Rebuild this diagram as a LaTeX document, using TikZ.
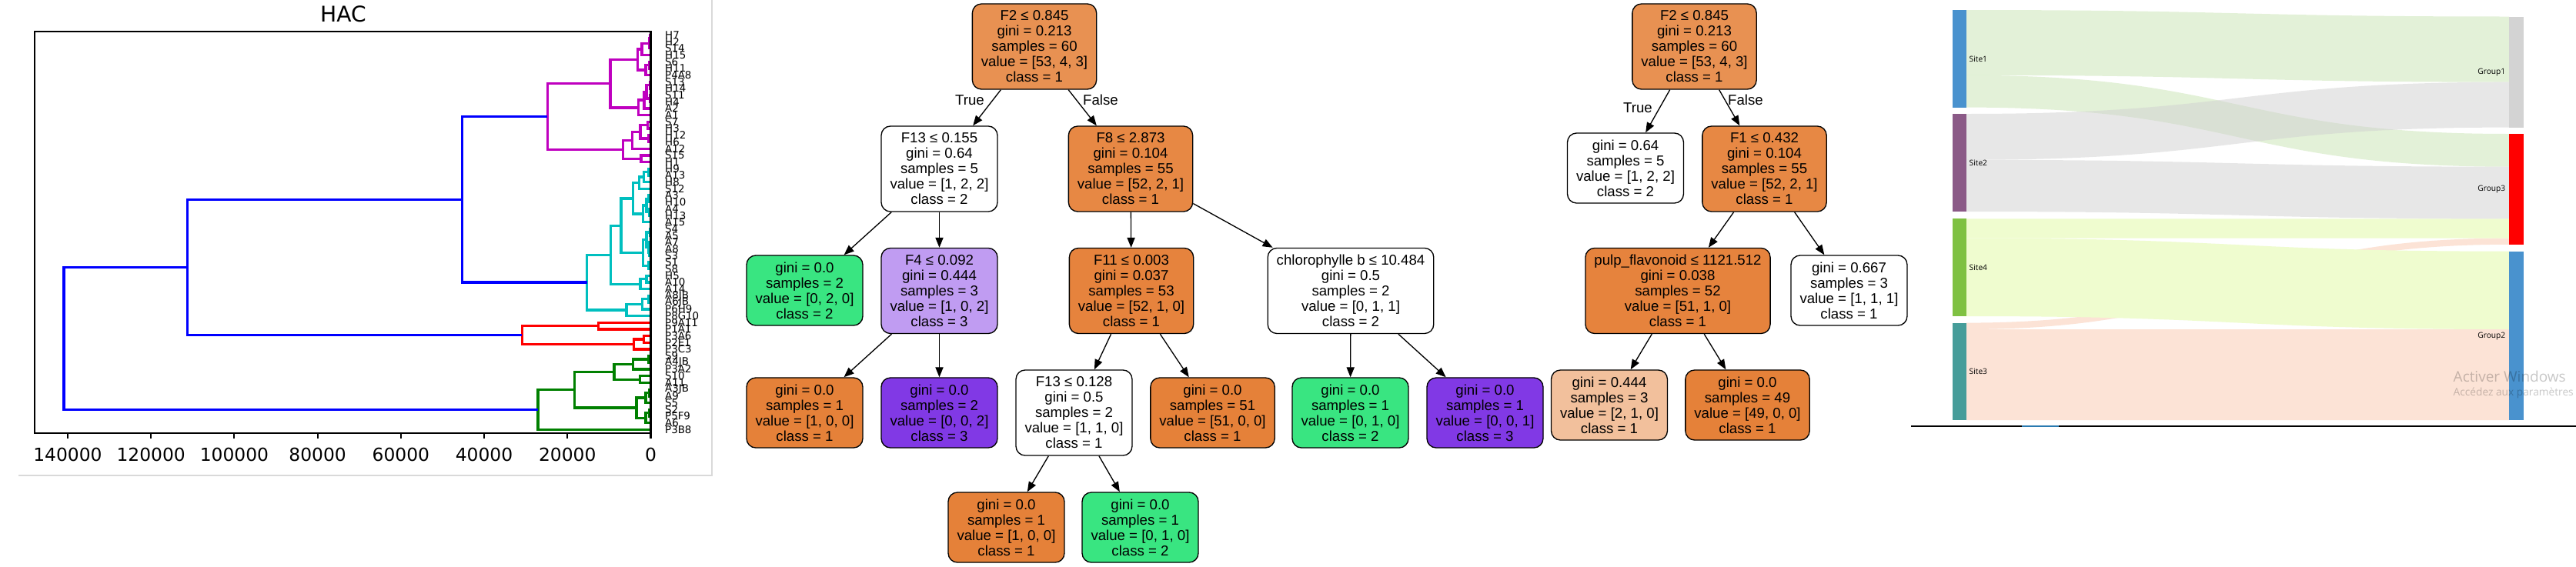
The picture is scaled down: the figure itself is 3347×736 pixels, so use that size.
\documentclass[tikz,border=0pt]{standalone}
\usepackage{fontspec}
\usepackage{xcolor}
\usepackage{tikz}
\usetikzlibrary{arrows.meta}
\newfontfamily\gvfont{Liberation Sans}
\newfontfamily\mplfont{DejaVu Sans}
\newfontfamily\plyfont{Open Sans}
\definecolor{cls1}{HTML}{E58139}
\definecolor{cls2}{HTML}{39E581}
\definecolor{cls3}{HTML}{8139E5}
\definecolor{rootfill}{HTML}{E89152}
\definecolor{splitA}{HTML}{E78844}
\definecolor{splitB}{HTML}{E6833D}
\definecolor{mixP}{HTML}{C09CF2}
\definecolor{mixO}{HTML}{F2C09C}
\definecolor{hm}{HTML}{BF00BF}
\definecolor{hc}{HTML}{00BFBF}
\definecolor{hr}{HTML}{FF0000}
\definecolor{hg}{HTML}{008000}
\definecolor{hb}{HTML}{0000FF}
\definecolor{panel}{HTML}{D9D9D9}
\definecolor{site1}{HTML}{4992CE}
\definecolor{site2}{HTML}{8B5A87}
\definecolor{site3}{HTML}{469D9A}
\definecolor{site4}{HTML}{7FC142}
\definecolor{grp1}{HTML}{D3D3D3}
\definecolor{grp3}{HTML}{FF0000}
\definecolor{grp2}{HTML}{4992CE}
\definecolor{flowg}{HTML}{C9E5B3}
\definecolor{flowk}{HTML}{D1D1D1}
\definecolor{flowy}{HTML}{EFFCCF}
\definecolor{flowp}{HTML}{FCE3D6}
\definecolor{baseline}{HTML}{0F4466}
\definecolor{baselit}{HTML}{2A7AB0}
\newcommand\gvsize{\gvfont\fontsize{5.3}{5.69}\selectfont}
\tikzset{
  tnode/.style={draw=black, line width=0.38pt, rounded corners=3.4pt, align=center,
    font=\gvsize, inner xsep=3.27pt, inner ysep=1.5pt, minimum height=1.11cm},
  tleaf/.style={tnode, minimum height=0.91cm},
  tedge/.style={line width=0.38pt, -{Triangle[length=3.7pt, width=2.9pt]}},
  tlab/.style={font=\gvsize, inner sep=0pt},
  hac/.style={line width=0.94pt},
  leaflab/.style={font=\mplfont\fontsize{3.8}{3.8}\selectfont, anchor=west, inner sep=0pt},
  ticklab/.style={font=\mplfont\fontsize{6.65}{6.65}\selectfont, inner sep=0pt},
  slab/.style={font=\plyfont\fontsize{2.9}{2.9}\selectfont, inner sep=0pt},
  wmark/.style={font=\plyfont, text=black, text opacity=0.22, anchor=west, inner sep=0pt}
}

\begin{document}
\begin{tikzpicture}[x=0.01cm, y=-0.01cm]
  \useasboundingbox (0,0) rectangle (3347,736);
  \fill[white] (0,0) rectangle (3347,736);

  % HAC panel
  \draw[panel, line width=0.5pt] (24,618) -- (925,618) -- (925,0);
  \node[font=\mplfont\fontsize{8}{8}\selectfont, inner sep=0pt] (title) at (446,18) {HAC};
  \begin{scope}[xshift=8.45cm, yshift=-0.41cm, x={(-0.05407cm,0)}, y={(0,-0.0869cm)}]
    % magenta cluster
    \foreach \ya/\va/\yb/\vb/\h in {
        0.5/0/1.5/0/0.1, 1.0/0.1/2.5/0/0.4, 1.75/0.4/3.5/0/2.15,
        4.5/0/5.5/0/0.3, 5.0/0.3/6.5/0/1.2, 2.625/2.15/5.75/1.2/3.1,
        7.5/0/8.5/0/0.2, 9.5/0/10.5/0/0.15, 8.0/0.2/10.0/0.15/1.0,
        9.0/1.0/11.5/0/1.55, 10.25/1.55/12.5/0/2.9, 4.1875/3.1/11.375/2.9/9.7,
        13.5/0/14.5/0/0.8, 15.5/0/16.5/0/0.6, 14.0/0.8/16.0/0.6/2.5,
        15.0/2.5/17.5/0/4.4, 18.5/0/19.5/0/2.3, 16.25/4.4/19.0/2.3/6.6,
        7.78/9.7/17.625/6.6/24.8}
      \draw[hac, hm] (\va,\ya) -- (\h,\ya) -- (\h,\yb) -- (\vb,\yb);
    % cyan cluster
    \foreach \ya/\va/\yb/\vb/\h in {
        20.5/0/21.5/0/0.6, 21.0/0.6/22.5/0/1.6, 21.75/1.6/23.5/0/2.8,
        24.5/0/25.5/0/0.5, 26.5/0/27.5/0/0.4, 25.0/0.5/27.0/0.4/1.0,
        26.0/1.0/28.5/0/1.85, 22.625/2.8/27.25/1.85/4.3,
        29.5/0/30.5/0/0.2, 32.5/0/33.5/0/0.3, 31.5/0/33.0/0.3/0.6,
        30.0/0.2/32.25/0.6/1.0, 34.5/0/35.5/0/0.5, 31.125/1.0/35.0/0.5/1.85,
        24.9375/4.3/33.0625/1.85/7.1, 36.5/0/37.5/0/1.0, 37.0/1.0/38.5/0/2.5,
        29.0/7.1/37.75/2.5/9.55, 39.5/0/40.5/0/0.6, 40.0/0.6/41.5/0/2.0,
        40.75/2.0/42.5/0/5.8, 33.375/9.55/41.625/5.8/15.3}
      \draw[hac, hc] (\va,\ya) -- (\h,\ya) -- (\h,\yb) -- (\vb,\yb);
    % red cluster
    \foreach \ya/\va/\yb/\vb/\h in {
        43.5/0/44.5/0/12.6, 45.5/0/46.5/0/1.6, 46.0/1.6/47.5/0/4.1,
        44.0/12.6/46.75/4.1/30.9}
      \draw[hac, hr] (\va,\ya) -- (\h,\ya) -- (\h,\yb) -- (\vb,\yb);
    % green cluster
    \foreach \ya/\va/\yb/\vb/\h in {
        48.5/0/49.5/0/0.6, 49.0/0.6/50.5/0/4.2, 51.5/0/52.5/0/2.6,
        49.75/4.2/52.0/2.6/8.8, 53.5/0/54.5/0/0.4, 54.0/0.4/55.5/0/1.2,
        56.5/0/57.5/0/0.3, 57.0/0.3/58.5/0/1.2, 54.75/1.2/57.75/1.2/3.4,
        50.875/8.8/56.25/3.4/18.3, 53.5625/18.3/59.5/0/27.1}
      \draw[hac, hg] (\va,\ya) -- (\h,\ya) -- (\h,\yb) -- (\vb,\yb);
    % upper links
    \foreach \ya/\va/\yb/\vb/\h in {
        12.70/24.8/37.5/15.3/45.3, 25.1/45.3/45.375/30.9/111.3,
        35.24/111.3/56.53/27.1/140.9}
      \draw[hac, hb] (\va,\ya) -- (\h,\ya) -- (\h,\yb) -- (\vb,\yb);
    \draw[line width=0.6pt] (0,0) rectangle (148,60);
    \foreach \v/\lab in {0/0, 20/20000, 40/40000, 60/60000, 80/80000, 100/100000, 120/120000, 140/140000} {
      \draw[line width=0.6pt] (\v,60) -- (\v,60.8);
      \node[ticklab] (tk\v) at (\v,63.2) {\lab};
    }
    \foreach \lab [count=\i from 0] in {H7, H2, S14, H15, S6, H11, P4A8, S13, H14, S11,
        H4, A2, A1, S7, H3, H12, H6, A12, S15, H1, H9, A13, H8, S12, A3, H10, A4, H13,
        A15, S4, A5, A7, A8, S3, S1, S8, H5, A10, A14, A8JB, A6JB, P6H9, P8G10, P9A11,
        P1A1, P3A6, P2E1, P3C3, S9, A4JB, P3A2, S10, A11, A3JB, A9, S5, S2, P5F9, A6, P3B8}
      \node[leaflab] (lf\i) at (-3.33,\i+0.5) {\lab};
  \end{scope}

  % decision tree, full depth
  \node[tnode, fill=rootfill] (r) at (1344,60.5) {F2 ≤ 0.845\\gini = 0.213\\samples = 60\\value = [53, 4, 3]\\class = 1};
  \node[tnode] (f13) at (1220.5,219.5) {F13 ≤ 0.155\\gini = 0.64\\samples = 5\\value = [1, 2, 2]\\class = 2};
  \node[tnode, fill=splitA] (f8) at (1469,219.5) {F8 ≤ 2.873\\gini = 0.104\\samples = 55\\value = [52, 2, 1]\\class = 1};
  \node[tleaf, fill=cls2] (l1) at (1045.5,377.5) {gini = 0.0\\samples = 2\\value = [0, 2, 0]\\class = 2};
  \node[tnode, fill=mixP] (f4) at (1220.5,378) {F4 ≤ 0.092\\gini = 0.444\\samples = 3\\value = [1, 0, 2]\\class = 3};
  \node[tnode, fill=splitB] (f11) at (1470,378) {F11 ≤ 0.003\\gini = 0.037\\samples = 53\\value = [52, 1, 0]\\class = 1};
  \node[tnode] (chl) at (1755,378) {chlorophylle b ≤ 10.484\\gini = 0.5\\samples = 2\\value = [0, 1, 1]\\class = 2};
  \node[tleaf, fill=cls1] (l2) at (1045.5,536.5) {gini = 0.0\\samples = 1\\value = [1, 0, 0]\\class = 1};
  \node[tleaf, fill=cls3] (l3) at (1220.5,536.5) {gini = 0.0\\samples = 2\\value = [0, 0, 2]\\class = 3};
  \node[tnode] (f13b) at (1395.5,536.5) {F13 ≤ 0.128\\gini = 0.5\\samples = 2\\value = [1, 1, 0]\\class = 1};
  \node[tleaf, fill=cls1] (l4) at (1575.5,536.5) {gini = 0.0\\samples = 51\\value = [51, 0, 0]\\class = 1};
  \node[tleaf, fill=cls2] (l5) at (1754.5,536.5) {gini = 0.0\\samples = 1\\value = [0, 1, 0]\\class = 2};
  \node[tleaf, fill=cls3] (l6) at (1929.5,536.5) {gini = 0.0\\samples = 1\\value = [0, 0, 1]\\class = 3};
  \node[tleaf, fill=cls1] (l7) at (1307.5,685.5) {gini = 0.0\\samples = 1\\value = [1, 0, 0]\\class = 1};
  \node[tleaf, fill=cls2] (l8) at (1481.5,685.5) {gini = 0.0\\samples = 1\\value = [0, 1, 0]\\class = 2};
  \foreach \a/\b in {r/f13, r/f8, f13/l1, f13/f4, f8/f11, f8/chl, f4/l2, f4/l3,
      f11/f13b, f11/l4, chl/l5, chl/l6, f13b/l7, f13b/l8}
    \draw[tedge] (\a) -- (\b);
  \node[tlab] (t1) at (1260,130) {True};
  \node[tlab] (fa1) at (1430,130) {False};

  % decision tree, pruned
  \node[tnode, fill=rootfill] (r2) at (2201.5,60.5) {F2 ≤ 0.845\\gini = 0.213\\samples = 60\\value = [53, 4, 3]\\class = 1};
  \node[tleaf] (w1) at (2112,218.5) {gini = 0.64\\samples = 5\\value = [1, 2, 2]\\class = 2};
  \node[tnode, fill=splitA] (f1) at (2292.5,219.5) {F1 ≤ 0.432\\gini = 0.104\\samples = 55\\value = [52, 2, 1]\\class = 1};
  \node[tnode, fill=splitB] (pf) at (2180,378) {pulp\_flavonoid ≤ 1121.512\\gini = 0.038\\samples = 52\\value = [51, 1, 0]\\class = 1};
  \node[tleaf] (w2) at (2402.5,377.5) {gini = 0.667\\samples = 3\\value = [1, 1, 1]\\class = 1};
  \node[tleaf, fill=mixO] (m1) at (2091,526.5) {gini = 0.444\\samples = 3\\value = [2, 1, 0]\\class = 1};
  \node[tleaf, fill=cls1] (m2) at (2270.5,526.5) {gini = 0.0\\samples = 49\\value = [49, 0, 0]\\class = 1};
  \foreach \a/\b in {r2/w1, r2/f1, f1/pf, f1/w2, pf/m1, pf/m2}
    \draw[tedge] (\a) -- (\b);
  \node[tlab] (t2) at (2128,140) {True};
  \node[tlab] (fa2) at (2268,130) {False};

  % sankey
  \foreach \sa/\sb/\ta/\tb/\fc/\op in {
      419.6/428/309.6/317.8/flowp/1, 428/546/428/546/flowp/1,
      284.4/309.6/284.4/309.6/flowy/1, 309.6/411/326.7/428/flowy/1,
      13/97.8/21.5/106.7/flowg/0.5, 97.8/139.6/174/216.7/flowg/0.5,
      148/207.8/106.7/165.6/flowk/0.5, 207.8/275/216.7/284.4/flowk/0.5}
    \fill[\fc, fill opacity=\op] (2555,\sa) .. controls (2907.5,\sa) and (2907.5,\ta) .. (3260,\ta)
      -- (3260,\tb) .. controls (2907.5,\tb) and (2907.5,\sb) .. (2555,\sb) -- cycle;
  \fill[site1] (2537,13) rectangle (2555,139.6);
  \fill[site2] (2537,148) rectangle (2555,275);
  \fill[site4] (2537,284.4) rectangle (2555,411);
  \fill[site3] (2537,419.6) rectangle (2555,546);
  \fill[grp1] (3260,21.5) rectangle (3279,165.6);
  \fill[grp3] (3260,174) rectangle (3279,317.8);
  \fill[grp2] (3260,326.7) rectangle (3279,546);
  \node[slab, anchor=west] (s1) at (2558,76.5) {Site1};
  \node[slab, anchor=west] (s2) at (2558,211.5) {Site2};
  \node[slab, anchor=west] (s4) at (2558,347.7) {Site4};
  \node[slab, anchor=west] (s3) at (2558,482.8) {Site3};
  \node[slab, anchor=east] (g1) at (3256,93.7) {Group1};
  \node[slab, anchor=east] (g3) at (3256,245.6) {Group3};
  \node[slab, anchor=east] (g2) at (3256,437) {Group2};
  \draw[baseline, line width=0.5pt] (2483,554) -- (3347,554);
  \draw[baselit, line width=0.5pt] (2627,554) -- (2675,554);
  \node[wmark, font=\plyfont\fontsize{5.4}{5.4}\selectfont] (wm1) at (3187,489) {Activer Windows};
  \node[wmark, font=\plyfont\fontsize{3.9}{3.9}\selectfont] (wm2) at (3187,511) {Accédez aux paramètres};
\end{tikzpicture}
\end{document}
